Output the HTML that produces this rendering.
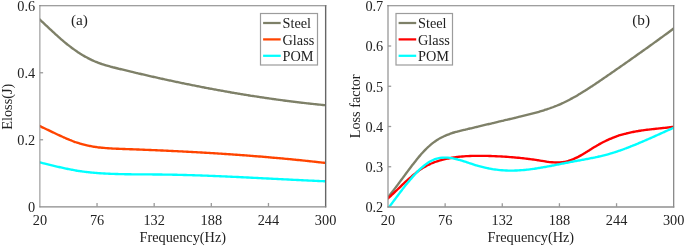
<!DOCTYPE html>
<html><head><meta charset="utf-8"><style>
html,body{margin:0;padding:0;background:#fff;width:685px;height:246px;overflow:hidden}
svg{display:block;will-change:transform}
text{font-family:"Liberation Serif",serif;font-size:14.3px;fill:#222}
</style></head><body>
<svg width="685" height="246" viewBox="0 0 685 246">
<defs><clipPath id="cl"><rect x="39.90" y="5.76" width="285.70" height="201.00"/></clipPath>
<clipPath id="cr"><rect x="388.00" y="5.76" width="285.70" height="201.24"/></clipPath></defs>
<path d="M33.90,14.19 C34.23,14.49 35.23,15.40 35.90,16.00 C36.57,16.61 37.23,17.22 37.90,17.84 C38.57,18.45 39.23,19.07 39.90,19.69 C40.57,20.31 41.23,20.93 41.90,21.55 C42.57,22.17 43.23,22.80 43.90,23.42 C44.57,24.04 45.23,24.67 45.90,25.29 C46.57,25.92 47.23,26.54 47.90,27.17 C48.57,27.79 49.23,28.41 49.90,29.03 C50.57,29.65 51.23,30.27 51.90,30.89 C52.57,31.51 53.23,32.12 53.90,32.73 C54.57,33.35 55.23,33.95 55.90,34.56 C56.57,35.16 57.23,35.76 57.90,36.36 C58.57,36.96 59.23,37.55 59.90,38.13 C60.57,38.72 61.23,39.30 61.90,39.88 C62.57,40.45 63.23,41.02 63.90,41.58 C64.57,42.14 65.23,42.70 65.90,43.25 C66.57,43.79 67.23,44.33 67.90,44.86 C68.57,45.40 69.23,45.92 69.90,46.43 C70.57,46.95 71.23,47.46 71.90,47.95 C72.57,48.45 73.23,48.94 73.90,49.41 C74.57,49.89 75.23,50.36 75.90,50.82 C76.57,51.28 77.23,51.73 77.90,52.17 C78.57,52.61 79.23,53.05 79.90,53.47 C80.57,53.89 81.23,54.30 81.90,54.71 C82.57,55.11 83.23,55.51 83.90,55.89 C84.57,56.28 85.23,56.66 85.90,57.02 C86.57,57.39 87.23,57.75 87.90,58.10 C88.57,58.45 89.23,58.79 89.90,59.12 C90.57,59.45 91.23,59.77 91.90,60.08 C92.57,60.39 93.23,60.69 93.90,60.99 C94.57,61.28 95.23,61.56 95.90,61.83 C96.57,62.11 97.23,62.37 97.90,62.63 C98.57,62.88 99.23,63.13 99.90,63.37 C100.57,63.61 101.23,63.84 101.90,64.06 C102.57,64.29 103.23,64.50 103.90,64.71 C104.57,64.92 105.23,65.13 105.90,65.33 C106.57,65.53 107.23,65.72 107.90,65.91 C108.57,66.10 109.23,66.28 109.90,66.46 C110.57,66.64 111.23,66.82 111.90,66.99 C112.57,67.17 113.23,67.34 113.90,67.51 C114.57,67.68 115.23,67.84 115.90,68.01 C116.57,68.17 117.23,68.34 117.90,68.50 C118.57,68.67 119.23,68.83 119.90,68.99 C120.57,69.16 121.23,69.32 121.90,69.48 C122.57,69.64 123.23,69.81 123.90,69.97 C124.57,70.13 125.23,70.29 125.90,70.45 C126.57,70.61 127.23,70.77 127.90,70.93 C128.57,71.09 129.23,71.25 129.90,71.41 C130.57,71.57 131.23,71.73 131.90,71.89 C132.57,72.05 133.23,72.21 133.90,72.36 C134.57,72.52 135.23,72.68 135.90,72.84 C136.57,72.99 137.23,73.15 137.90,73.31 C138.57,73.46 139.23,73.62 139.90,73.77 C140.57,73.93 141.23,74.08 141.90,74.24 C142.57,74.39 143.23,74.55 143.90,74.70 C144.57,74.86 145.23,75.01 145.90,75.16 C146.57,75.32 147.23,75.47 147.90,75.62 C148.57,75.77 149.23,75.92 149.90,76.08 C150.57,76.23 151.23,76.38 151.90,76.53 C152.57,76.68 153.23,76.83 153.90,76.98 C154.57,77.13 155.23,77.28 155.90,77.43 C156.57,77.58 157.23,77.73 157.90,77.88 C158.57,78.02 159.23,78.17 159.90,78.32 C160.57,78.47 161.23,78.61 161.90,78.76 C162.57,78.91 163.23,79.05 163.90,79.20 C164.57,79.34 165.23,79.49 165.90,79.64 C166.57,79.78 167.23,79.92 167.90,80.07 C168.57,80.21 169.23,80.36 169.90,80.50 C170.57,80.64 171.23,80.79 171.90,80.93 C172.57,81.07 173.23,81.21 173.90,81.35 C174.57,81.50 175.23,81.64 175.90,81.78 C176.57,81.92 177.23,82.06 177.90,82.20 C178.57,82.34 179.23,82.48 179.90,82.62 C180.57,82.76 181.23,82.89 181.90,83.03 C182.57,83.17 183.23,83.31 183.90,83.45 C184.57,83.58 185.23,83.72 185.90,83.86 C186.57,83.99 187.23,84.13 187.90,84.26 C188.57,84.40 189.23,84.53 189.90,84.67 C190.57,84.80 191.23,84.94 191.90,85.07 C192.57,85.21 193.23,85.34 193.90,85.47 C194.57,85.60 195.23,85.74 195.90,85.87 C196.57,86.00 197.23,86.13 197.90,86.26 C198.57,86.39 199.23,86.52 199.90,86.65 C200.57,86.78 201.23,86.91 201.90,87.04 C202.57,87.17 203.23,87.30 203.90,87.43 C204.57,87.56 205.23,87.69 205.90,87.81 C206.57,87.94 207.23,88.07 207.90,88.19 C208.57,88.32 209.23,88.45 209.90,88.57 C210.57,88.70 211.23,88.82 211.90,88.95 C212.57,89.07 213.23,89.20 213.90,89.32 C214.57,89.44 215.23,89.57 215.90,89.69 C216.57,89.81 217.23,89.93 217.90,90.06 C218.57,90.18 219.23,90.30 219.90,90.42 C220.57,90.54 221.23,90.66 221.90,90.78 C222.57,90.90 223.23,91.02 223.90,91.14 C224.57,91.26 225.23,91.37 225.90,91.49 C226.57,91.61 227.23,91.73 227.90,91.85 C228.57,91.96 229.23,92.08 229.90,92.19 C230.57,92.31 231.23,92.43 231.90,92.54 C232.57,92.66 233.23,92.77 233.90,92.88 C234.57,93.00 235.23,93.11 235.90,93.22 C236.57,93.34 237.23,93.45 237.90,93.56 C238.57,93.67 239.23,93.79 239.90,93.90 C240.57,94.01 241.23,94.12 241.90,94.23 C242.57,94.34 243.23,94.45 243.90,94.56 C244.57,94.67 245.23,94.77 245.90,94.88 C246.57,94.99 247.23,95.10 247.90,95.20 C248.57,95.31 249.23,95.42 249.90,95.52 C250.57,95.63 251.23,95.74 251.90,95.84 C252.57,95.95 253.23,96.05 253.90,96.15 C254.57,96.26 255.23,96.36 255.90,96.46 C256.57,96.57 257.23,96.67 257.90,96.77 C258.57,96.87 259.23,96.97 259.90,97.08 C260.57,97.18 261.23,97.28 261.90,97.38 C262.57,97.48 263.23,97.57 263.90,97.67 C264.57,97.77 265.23,97.87 265.90,97.97 C266.57,98.07 267.23,98.16 267.90,98.26 C268.57,98.36 269.23,98.45 269.90,98.55 C270.57,98.64 271.23,98.74 271.90,98.83 C272.57,98.93 273.23,99.02 273.90,99.11 C274.57,99.21 275.23,99.30 275.90,99.39 C276.57,99.49 277.23,99.58 277.90,99.67 C278.57,99.76 279.23,99.85 279.90,99.94 C280.57,100.03 281.23,100.12 281.90,100.21 C282.57,100.30 283.23,100.39 283.90,100.48 C284.57,100.56 285.23,100.65 285.90,100.74 C286.57,100.83 287.23,100.91 287.90,101.00 C288.57,101.08 289.23,101.17 289.90,101.25 C290.57,101.34 291.23,101.42 291.90,101.51 C292.57,101.59 293.23,101.67 293.90,101.76 C294.57,101.84 295.23,101.92 295.90,102.00 C296.57,102.08 297.23,102.16 297.90,102.24 C298.57,102.32 299.23,102.40 299.90,102.48 C300.57,102.56 301.23,102.64 301.90,102.72 C302.57,102.80 303.23,102.87 303.90,102.95 C304.57,103.03 305.23,103.10 305.90,103.18 C306.57,103.26 307.23,103.33 307.90,103.41 C308.57,103.48 309.23,103.55 309.90,103.63 C310.57,103.70 311.23,103.77 311.90,103.85 C312.57,103.92 313.23,103.99 313.90,104.06 C314.57,104.13 315.23,104.20 315.90,104.27 C316.57,104.34 317.23,104.41 317.90,104.48 C318.57,104.55 319.23,104.62 319.90,104.69 C320.57,104.75 321.23,104.82 321.90,104.89 C322.57,104.95 323.23,105.02 323.90,105.08 C324.57,105.15 325.23,105.21 325.90,105.28 C326.57,105.34 327.23,105.41 327.90,105.47 C328.57,105.53 329.28,105.60 329.90,105.66 C330.52,105.71 331.32,105.79 331.60,105.81" fill="none" stroke="#7e8068" stroke-width="2.35" stroke-linejoin="round" clip-path="url(#cl)"/>
<path d="M33.90,123.54 C34.23,123.69 35.23,124.11 35.90,124.40 C36.57,124.69 37.23,124.98 37.90,125.28 C38.57,125.57 39.23,125.88 39.90,126.18 C40.57,126.48 41.23,126.79 41.90,127.10 C42.57,127.41 43.23,127.72 43.90,128.03 C44.57,128.35 45.23,128.66 45.90,128.98 C46.57,129.30 47.23,129.61 47.90,129.93 C48.57,130.25 49.23,130.57 49.90,130.89 C50.57,131.21 51.23,131.53 51.90,131.85 C52.57,132.17 53.23,132.49 53.90,132.81 C54.57,133.13 55.23,133.44 55.90,133.76 C56.57,134.07 57.23,134.39 57.90,134.70 C58.57,135.01 59.23,135.32 59.90,135.63 C60.57,135.94 61.23,136.24 61.90,136.54 C62.57,136.85 63.23,137.14 63.90,137.44 C64.57,137.73 65.23,138.03 65.90,138.31 C66.57,138.60 67.23,138.88 67.90,139.16 C68.57,139.44 69.23,139.71 69.90,139.98 C70.57,140.25 71.23,140.51 71.90,140.77 C72.57,141.03 73.23,141.28 73.90,141.52 C74.57,141.77 75.23,142.01 75.90,142.24 C76.57,142.47 77.23,142.69 77.90,142.91 C78.57,143.13 79.23,143.34 79.90,143.54 C80.57,143.74 81.23,143.94 81.90,144.12 C82.57,144.31 83.23,144.49 83.90,144.66 C84.57,144.83 85.23,144.99 85.90,145.15 C86.57,145.31 87.23,145.46 87.90,145.60 C88.57,145.74 89.23,145.88 89.90,146.01 C90.57,146.14 91.23,146.26 91.90,146.38 C92.57,146.50 93.23,146.61 93.90,146.72 C94.57,146.82 95.23,146.92 95.90,147.02 C96.57,147.11 97.23,147.20 97.90,147.29 C98.57,147.38 99.23,147.46 99.90,147.53 C100.57,147.61 101.23,147.68 101.90,147.75 C102.57,147.82 103.23,147.88 103.90,147.94 C104.57,148.00 105.23,148.06 105.90,148.11 C106.57,148.16 107.23,148.21 107.90,148.26 C108.57,148.31 109.23,148.35 109.90,148.39 C110.57,148.43 111.23,148.47 111.90,148.51 C112.57,148.54 113.23,148.58 113.90,148.61 C114.57,148.64 115.23,148.67 115.90,148.70 C116.57,148.73 117.23,148.76 117.90,148.78 C118.57,148.81 119.23,148.84 119.90,148.86 C120.57,148.88 121.23,148.91 121.90,148.93 C122.57,148.95 123.23,148.98 123.90,149.00 C124.57,149.02 125.23,149.05 125.90,149.07 C126.57,149.09 127.23,149.12 127.90,149.14 C128.57,149.16 129.23,149.19 129.90,149.21 C130.57,149.23 131.23,149.26 131.90,149.28 C132.57,149.31 133.23,149.33 133.90,149.35 C134.57,149.38 135.23,149.40 135.90,149.43 C136.57,149.45 137.23,149.48 137.90,149.50 C138.57,149.53 139.23,149.55 139.90,149.58 C140.57,149.61 141.23,149.63 141.90,149.66 C142.57,149.68 143.23,149.71 143.90,149.74 C144.57,149.76 145.23,149.79 145.90,149.82 C146.57,149.84 147.23,149.87 147.90,149.90 C148.57,149.92 149.23,149.95 149.90,149.98 C150.57,150.01 151.23,150.03 151.90,150.06 C152.57,150.09 153.23,150.12 153.90,150.15 C154.57,150.18 155.23,150.20 155.90,150.23 C156.57,150.26 157.23,150.29 157.90,150.32 C158.57,150.35 159.23,150.38 159.90,150.41 C160.57,150.44 161.23,150.47 161.90,150.50 C162.57,150.53 163.23,150.56 163.90,150.59 C164.57,150.62 165.23,150.65 165.90,150.68 C166.57,150.71 167.23,150.74 167.90,150.77 C168.57,150.80 169.23,150.83 169.90,150.86 C170.57,150.89 171.23,150.93 171.90,150.96 C172.57,150.99 173.23,151.02 173.90,151.05 C174.57,151.09 175.23,151.12 175.90,151.15 C176.57,151.18 177.23,151.22 177.90,151.25 C178.57,151.28 179.23,151.32 179.90,151.35 C180.57,151.38 181.23,151.42 181.90,151.45 C182.57,151.48 183.23,151.52 183.90,151.55 C184.57,151.59 185.23,151.62 185.90,151.66 C186.57,151.69 187.23,151.73 187.90,151.76 C188.57,151.80 189.23,151.83 189.90,151.87 C190.57,151.90 191.23,151.94 191.90,151.97 C192.57,152.01 193.23,152.05 193.90,152.08 C194.57,152.12 195.23,152.16 195.90,152.19 C196.57,152.23 197.23,152.27 197.90,152.31 C198.57,152.34 199.23,152.38 199.90,152.42 C200.57,152.46 201.23,152.49 201.90,152.53 C202.57,152.57 203.23,152.61 203.90,152.65 C204.57,152.69 205.23,152.73 205.90,152.77 C206.57,152.81 207.23,152.85 207.90,152.89 C208.57,152.93 209.23,152.97 209.90,153.01 C210.57,153.05 211.23,153.09 211.90,153.13 C212.57,153.17 213.23,153.21 213.90,153.25 C214.57,153.29 215.23,153.33 215.90,153.38 C216.57,153.42 217.23,153.46 217.90,153.50 C218.57,153.54 219.23,153.59 219.90,153.63 C220.57,153.67 221.23,153.72 221.90,153.76 C222.57,153.80 223.23,153.85 223.90,153.89 C224.57,153.93 225.23,153.98 225.90,154.02 C226.57,154.07 227.23,154.11 227.90,154.16 C228.57,154.20 229.23,154.25 229.90,154.29 C230.57,154.34 231.23,154.38 231.90,154.43 C232.57,154.48 233.23,154.52 233.90,154.57 C234.57,154.62 235.23,154.66 235.90,154.71 C236.57,154.76 237.23,154.80 237.90,154.85 C238.57,154.90 239.23,154.95 239.90,155.00 C240.57,155.05 241.23,155.09 241.90,155.14 C242.57,155.19 243.23,155.24 243.90,155.29 C244.57,155.34 245.23,155.39 245.90,155.44 C246.57,155.49 247.23,155.54 247.90,155.59 C248.57,155.64 249.23,155.69 249.90,155.74 C250.57,155.79 251.23,155.85 251.90,155.90 C252.57,155.95 253.23,156.00 253.90,156.05 C254.57,156.11 255.23,156.16 255.90,156.21 C256.57,156.27 257.23,156.32 257.90,156.37 C258.57,156.43 259.23,156.48 259.90,156.54 C260.57,156.59 261.23,156.64 261.90,156.70 C262.57,156.75 263.23,156.81 263.90,156.86 C264.57,156.92 265.23,156.98 265.90,157.03 C266.57,157.09 267.23,157.14 267.90,157.20 C268.57,157.26 269.23,157.32 269.90,157.37 C270.57,157.43 271.23,157.49 271.90,157.55 C272.57,157.60 273.23,157.66 273.90,157.72 C274.57,157.78 275.23,157.84 275.90,157.90 C276.57,157.96 277.23,158.02 277.90,158.08 C278.57,158.14 279.23,158.20 279.90,158.26 C280.57,158.32 281.23,158.38 281.90,158.44 C282.57,158.50 283.23,158.57 283.90,158.63 C284.57,158.69 285.23,158.75 285.90,158.82 C286.57,158.88 287.23,158.94 287.90,159.00 C288.57,159.07 289.23,159.13 289.90,159.20 C290.57,159.26 291.23,159.32 291.90,159.39 C292.57,159.45 293.23,159.52 293.90,159.58 C294.57,159.65 295.23,159.72 295.90,159.78 C296.57,159.85 297.23,159.92 297.90,159.98 C298.57,160.05 299.23,160.12 299.90,160.18 C300.57,160.25 301.23,160.32 301.90,160.39 C302.57,160.46 303.23,160.53 303.90,160.59 C304.57,160.66 305.23,160.73 305.90,160.80 C306.57,160.87 307.23,160.94 307.90,161.01 C308.57,161.08 309.23,161.16 309.90,161.23 C310.57,161.30 311.23,161.37 311.90,161.44 C312.57,161.51 313.23,161.59 313.90,161.66 C314.57,161.73 315.23,161.81 315.90,161.88 C316.57,161.95 317.23,162.03 317.90,162.10 C318.57,162.18 319.23,162.25 319.90,162.33 C320.57,162.40 321.23,162.48 321.90,162.55 C322.57,162.63 323.23,162.70 323.90,162.78 C324.57,162.86 325.23,162.93 325.90,163.01 C326.57,163.09 327.23,163.17 327.90,163.25 C328.57,163.32 329.28,163.41 329.90,163.48 C330.52,163.55 331.32,163.65 331.60,163.68" fill="none" stroke="#ff4400" stroke-width="2.35" stroke-linejoin="round" clip-path="url(#cl)"/>
<path d="M33.90,160.93 C34.23,161.01 35.23,161.25 35.90,161.42 C36.57,161.58 37.23,161.74 37.90,161.91 C38.57,162.07 39.23,162.24 39.90,162.40 C40.57,162.57 41.23,162.73 41.90,162.90 C42.57,163.06 43.23,163.23 43.90,163.40 C44.57,163.56 45.23,163.73 45.90,163.89 C46.57,164.06 47.23,164.22 47.90,164.39 C48.57,164.55 49.23,164.71 49.90,164.88 C50.57,165.04 51.23,165.20 51.90,165.36 C52.57,165.53 53.23,165.69 53.90,165.85 C54.57,166.01 55.23,166.16 55.90,166.32 C56.57,166.48 57.23,166.63 57.90,166.79 C58.57,166.94 59.23,167.10 59.90,167.25 C60.57,167.40 61.23,167.55 61.90,167.70 C62.57,167.85 63.23,167.99 63.90,168.14 C64.57,168.28 65.23,168.43 65.90,168.57 C66.57,168.71 67.23,168.84 67.90,168.98 C68.57,169.12 69.23,169.25 69.90,169.38 C70.57,169.51 71.23,169.64 71.90,169.76 C72.57,169.89 73.23,170.01 73.90,170.13 C74.57,170.25 75.23,170.37 75.90,170.48 C76.57,170.60 77.23,170.71 77.90,170.81 C78.57,170.92 79.23,171.02 79.90,171.13 C80.57,171.23 81.23,171.32 81.90,171.42 C82.57,171.51 83.23,171.60 83.90,171.69 C84.57,171.77 85.23,171.86 85.90,171.94 C86.57,172.02 87.23,172.10 87.90,172.17 C88.57,172.25 89.23,172.32 89.90,172.39 C90.57,172.46 91.23,172.52 91.90,172.59 C92.57,172.65 93.23,172.71 93.90,172.77 C94.57,172.83 95.23,172.88 95.90,172.94 C96.57,172.99 97.23,173.04 97.90,173.09 C98.57,173.14 99.23,173.19 99.90,173.23 C100.57,173.28 101.23,173.32 101.90,173.36 C102.57,173.40 103.23,173.44 103.90,173.48 C104.57,173.51 105.23,173.55 105.90,173.58 C106.57,173.62 107.23,173.65 107.90,173.68 C108.57,173.71 109.23,173.74 109.90,173.77 C110.57,173.80 111.23,173.82 111.90,173.85 C112.57,173.87 113.23,173.90 113.90,173.92 C114.57,173.94 115.23,173.96 115.90,173.99 C116.57,174.01 117.23,174.03 117.90,174.04 C118.57,174.06 119.23,174.08 119.90,174.10 C120.57,174.11 121.23,174.13 121.90,174.14 C122.57,174.16 123.23,174.17 123.90,174.19 C124.57,174.20 125.23,174.21 125.90,174.22 C126.57,174.23 127.23,174.24 127.90,174.25 C128.57,174.26 129.23,174.27 129.90,174.28 C130.57,174.29 131.23,174.30 131.90,174.31 C132.57,174.31 133.23,174.32 133.90,174.33 C134.57,174.33 135.23,174.34 135.90,174.35 C136.57,174.35 137.23,174.36 137.90,174.36 C138.57,174.37 139.23,174.37 139.90,174.38 C140.57,174.38 141.23,174.39 141.90,174.39 C142.57,174.39 143.23,174.40 143.90,174.40 C144.57,174.41 145.23,174.41 145.90,174.41 C146.57,174.42 147.23,174.42 147.90,174.43 C148.57,174.43 149.23,174.43 149.90,174.44 C150.57,174.44 151.23,174.45 151.90,174.45 C152.57,174.45 153.23,174.46 153.90,174.46 C154.57,174.47 155.23,174.47 155.90,174.48 C156.57,174.48 157.23,174.49 157.90,174.50 C158.57,174.50 159.23,174.51 159.90,174.52 C160.57,174.52 161.23,174.53 161.90,174.54 C162.57,174.55 163.23,174.55 163.90,174.56 C164.57,174.57 165.23,174.58 165.90,174.59 C166.57,174.60 167.23,174.61 167.90,174.62 C168.57,174.63 169.23,174.64 169.90,174.66 C170.57,174.67 171.23,174.68 171.90,174.69 C172.57,174.70 173.23,174.72 173.90,174.73 C174.57,174.74 175.23,174.76 175.90,174.77 C176.57,174.79 177.23,174.80 177.90,174.82 C178.57,174.83 179.23,174.85 179.90,174.86 C180.57,174.88 181.23,174.89 181.90,174.91 C182.57,174.93 183.23,174.95 183.90,174.96 C184.57,174.98 185.23,175.00 185.90,175.02 C186.57,175.03 187.23,175.05 187.90,175.07 C188.57,175.09 189.23,175.11 189.90,175.13 C190.57,175.15 191.23,175.17 191.90,175.19 C192.57,175.21 193.23,175.23 193.90,175.25 C194.57,175.27 195.23,175.29 195.90,175.32 C196.57,175.34 197.23,175.36 197.90,175.38 C198.57,175.40 199.23,175.43 199.90,175.45 C200.57,175.47 201.23,175.50 201.90,175.52 C202.57,175.54 203.23,175.57 203.90,175.59 C204.57,175.61 205.23,175.64 205.90,175.66 C206.57,175.69 207.23,175.71 207.90,175.74 C208.57,175.76 209.23,175.79 209.90,175.82 C210.57,175.84 211.23,175.87 211.90,175.89 C212.57,175.92 213.23,175.95 213.90,175.97 C214.57,176.00 215.23,176.03 215.90,176.06 C216.57,176.08 217.23,176.11 217.90,176.14 C218.57,176.17 219.23,176.19 219.90,176.22 C220.57,176.25 221.23,176.28 221.90,176.31 C222.57,176.34 223.23,176.37 223.90,176.39 C224.57,176.42 225.23,176.45 225.90,176.48 C226.57,176.51 227.23,176.54 227.90,176.57 C228.57,176.60 229.23,176.63 229.90,176.66 C230.57,176.69 231.23,176.72 231.90,176.75 C232.57,176.78 233.23,176.82 233.90,176.85 C234.57,176.88 235.23,176.91 235.90,176.94 C236.57,176.97 237.23,177.00 237.90,177.03 C238.57,177.07 239.23,177.10 239.90,177.13 C240.57,177.16 241.23,177.19 241.90,177.23 C242.57,177.26 243.23,177.29 243.90,177.32 C244.57,177.36 245.23,177.39 245.90,177.42 C246.57,177.45 247.23,177.49 247.90,177.52 C248.57,177.55 249.23,177.58 249.90,177.62 C250.57,177.65 251.23,177.68 251.90,177.72 C252.57,177.75 253.23,177.78 253.90,177.82 C254.57,177.85 255.23,177.88 255.90,177.92 C256.57,177.95 257.23,177.98 257.90,178.02 C258.57,178.05 259.23,178.09 259.90,178.12 C260.57,178.15 261.23,178.19 261.90,178.22 C262.57,178.26 263.23,178.29 263.90,178.32 C264.57,178.36 265.23,178.39 265.90,178.42 C266.57,178.46 267.23,178.49 267.90,178.53 C268.57,178.56 269.23,178.59 269.90,178.63 C270.57,178.66 271.23,178.70 271.90,178.73 C272.57,178.77 273.23,178.80 273.90,178.83 C274.57,178.87 275.23,178.90 275.90,178.94 C276.57,178.97 277.23,179.00 277.90,179.04 C278.57,179.07 279.23,179.11 279.90,179.14 C280.57,179.17 281.23,179.21 281.90,179.24 C282.57,179.27 283.23,179.31 283.90,179.34 C284.57,179.38 285.23,179.41 285.90,179.44 C286.57,179.48 287.23,179.51 287.90,179.54 C288.57,179.58 289.23,179.61 289.90,179.64 C290.57,179.68 291.23,179.71 291.90,179.74 C292.57,179.78 293.23,179.81 293.90,179.84 C294.57,179.88 295.23,179.91 295.90,179.94 C296.57,179.97 297.23,180.01 297.90,180.04 C298.57,180.07 299.23,180.10 299.90,180.14 C300.57,180.17 301.23,180.20 301.90,180.23 C302.57,180.26 303.23,180.30 303.90,180.33 C304.57,180.36 305.23,180.39 305.90,180.42 C306.57,180.45 307.23,180.48 307.90,180.52 C308.57,180.55 309.23,180.58 309.90,180.61 C310.57,180.64 311.23,180.67 311.90,180.70 C312.57,180.73 313.23,180.76 313.90,180.79 C314.57,180.82 315.23,180.85 315.90,180.88 C316.57,180.91 317.23,180.94 317.90,180.97 C318.57,181.00 319.23,181.03 319.90,181.06 C320.57,181.09 321.23,181.11 321.90,181.14 C322.57,181.17 323.23,181.20 323.90,181.23 C324.57,181.26 325.23,181.28 325.90,181.31 C326.57,181.34 327.23,181.37 327.90,181.39 C328.57,181.42 329.28,181.45 329.90,181.47 C330.52,181.50 331.32,181.53 331.60,181.54" fill="none" stroke="#00ffff" stroke-width="2.35" stroke-linejoin="round" clip-path="url(#cl)"/>
<path d="M382.00,204.46 C382.33,204.07 383.33,202.93 384.00,202.14 C384.67,201.36 385.33,200.56 386.00,199.76 C386.67,198.95 387.33,198.13 388.00,197.30 C388.67,196.48 389.33,195.64 390.00,194.80 C390.67,193.95 391.33,193.10 392.00,192.24 C392.67,191.38 393.33,190.51 394.00,189.64 C394.67,188.77 395.33,187.89 396.00,187.00 C396.67,186.12 397.33,185.23 398.00,184.34 C398.67,183.45 399.33,182.55 400.00,181.66 C400.67,180.76 401.33,179.86 402.00,178.96 C402.67,178.06 403.33,177.16 404.00,176.26 C404.67,175.36 405.33,174.45 406.00,173.56 C406.67,172.66 407.33,171.76 408.00,170.87 C408.67,169.98 409.33,169.09 410.00,168.20 C410.67,167.32 411.33,166.44 412.00,165.57 C412.67,164.71 413.33,163.84 414.00,162.99 C414.67,162.14 415.33,161.30 416.00,160.47 C416.67,159.63 417.33,158.81 418.00,158.01 C418.67,157.20 419.33,156.41 420.00,155.63 C420.67,154.85 421.33,154.09 422.00,153.34 C422.67,152.60 423.33,151.87 424.00,151.16 C424.67,150.45 425.33,149.75 426.00,149.08 C426.67,148.41 427.33,147.76 428.00,147.13 C428.67,146.50 429.33,145.90 430.00,145.32 C430.67,144.74 431.33,144.18 432.00,143.65 C432.67,143.11 433.33,142.60 434.00,142.11 C434.67,141.62 435.33,141.16 436.00,140.71 C436.67,140.26 437.33,139.83 438.00,139.42 C438.67,139.01 439.33,138.63 440.00,138.25 C440.67,137.88 441.33,137.53 442.00,137.19 C442.67,136.85 443.33,136.52 444.00,136.21 C444.67,135.90 445.33,135.61 446.00,135.33 C446.67,135.05 447.33,134.78 448.00,134.53 C448.67,134.27 449.33,134.03 450.00,133.79 C450.67,133.56 451.33,133.33 452.00,133.12 C452.67,132.90 453.33,132.70 454.00,132.50 C454.67,132.30 455.33,132.11 456.00,131.93 C456.67,131.74 457.33,131.57 458.00,131.39 C458.67,131.22 459.33,131.05 460.00,130.89 C460.67,130.72 461.33,130.56 462.00,130.40 C462.67,130.24 463.33,130.08 464.00,129.92 C464.67,129.77 465.33,129.61 466.00,129.45 C466.67,129.30 467.33,129.14 468.00,128.98 C468.67,128.82 469.33,128.67 470.00,128.51 C470.67,128.35 471.33,128.19 472.00,128.04 C472.67,127.88 473.33,127.72 474.00,127.56 C474.67,127.41 475.33,127.25 476.00,127.09 C476.67,126.93 477.33,126.77 478.00,126.62 C478.67,126.46 479.33,126.30 480.00,126.14 C480.67,125.98 481.33,125.83 482.00,125.67 C482.67,125.51 483.33,125.35 484.00,125.19 C484.67,125.03 485.33,124.88 486.00,124.72 C486.67,124.56 487.33,124.40 488.00,124.24 C488.67,124.08 489.33,123.93 490.00,123.77 C490.67,123.61 491.33,123.45 492.00,123.29 C492.67,123.13 493.33,122.97 494.00,122.82 C494.67,122.66 495.33,122.50 496.00,122.34 C496.67,122.18 497.33,122.02 498.00,121.86 C498.67,121.71 499.33,121.55 500.00,121.39 C500.67,121.23 501.33,121.07 502.00,120.91 C502.67,120.76 503.33,120.60 504.00,120.44 C504.67,120.28 505.33,120.12 506.00,119.96 C506.67,119.81 507.33,119.65 508.00,119.49 C508.67,119.33 509.33,119.17 510.00,119.02 C510.67,118.86 511.33,118.70 512.00,118.54 C512.67,118.38 513.33,118.23 514.00,118.07 C514.67,117.91 515.33,117.75 516.00,117.60 C516.67,117.44 517.33,117.28 518.00,117.12 C518.67,116.97 519.33,116.81 520.00,116.65 C520.67,116.49 521.33,116.33 522.00,116.17 C522.67,116.01 523.33,115.85 524.00,115.69 C524.67,115.53 525.33,115.37 526.00,115.21 C526.67,115.04 527.33,114.88 528.00,114.71 C528.67,114.54 529.33,114.38 530.00,114.21 C530.67,114.04 531.33,113.86 532.00,113.69 C532.67,113.51 533.33,113.34 534.00,113.16 C534.67,112.98 535.33,112.80 536.00,112.62 C536.67,112.43 537.33,112.24 538.00,112.05 C538.67,111.86 539.33,111.67 540.00,111.48 C540.67,111.28 541.33,111.08 542.00,110.88 C542.67,110.67 543.33,110.47 544.00,110.26 C544.67,110.05 545.33,109.83 546.00,109.61 C546.67,109.39 547.33,109.17 548.00,108.94 C548.67,108.72 549.33,108.48 550.00,108.25 C550.67,108.01 551.33,107.77 552.00,107.52 C552.67,107.28 553.33,107.03 554.00,106.77 C554.67,106.51 555.33,106.25 556.00,105.98 C556.67,105.72 557.33,105.44 558.00,105.16 C558.67,104.88 559.33,104.60 560.00,104.31 C560.67,104.02 561.33,103.72 562.00,103.42 C562.67,103.11 563.33,102.80 564.00,102.49 C564.67,102.17 565.33,101.84 566.00,101.52 C566.67,101.19 567.33,100.85 568.00,100.51 C568.67,100.17 569.33,99.82 570.00,99.47 C570.67,99.12 571.33,98.76 572.00,98.39 C572.67,98.03 573.33,97.66 574.00,97.29 C574.67,96.91 575.33,96.53 576.00,96.15 C576.67,95.77 577.33,95.38 578.00,94.98 C578.67,94.59 579.33,94.19 580.00,93.79 C580.67,93.39 581.33,92.99 582.00,92.58 C582.67,92.17 583.33,91.76 584.00,91.34 C584.67,90.92 585.33,90.50 586.00,90.08 C586.67,89.65 587.33,89.23 588.00,88.80 C588.67,88.37 589.33,87.94 590.00,87.50 C590.67,87.07 591.33,86.63 592.00,86.19 C592.67,85.75 593.33,85.30 594.00,84.86 C594.67,84.41 595.33,83.97 596.00,83.52 C596.67,83.07 597.33,82.62 598.00,82.17 C598.67,81.72 599.33,81.26 600.00,80.81 C600.67,80.35 601.33,79.90 602.00,79.44 C602.67,78.98 603.33,78.52 604.00,78.07 C604.67,77.61 605.33,77.15 606.00,76.69 C606.67,76.23 607.33,75.77 608.00,75.31 C608.67,74.85 609.33,74.39 610.00,73.93 C610.67,73.47 611.33,73.00 612.00,72.54 C612.67,72.08 613.33,71.62 614.00,71.16 C614.67,70.69 615.33,70.23 616.00,69.77 C616.67,69.31 617.33,68.84 618.00,68.38 C618.67,67.91 619.33,67.45 620.00,66.98 C620.67,66.52 621.33,66.05 622.00,65.59 C622.67,65.12 623.33,64.66 624.00,64.19 C624.67,63.72 625.33,63.26 626.00,62.79 C626.67,62.32 627.33,61.86 628.00,61.39 C628.67,60.92 629.33,60.45 630.00,59.98 C630.67,59.51 631.33,59.04 632.00,58.57 C632.67,58.10 633.33,57.63 634.00,57.16 C634.67,56.69 635.33,56.22 636.00,55.75 C636.67,55.28 637.33,54.80 638.00,54.33 C638.67,53.86 639.33,53.39 640.00,52.91 C640.67,52.44 641.33,51.96 642.00,51.49 C642.67,51.02 643.33,50.54 644.00,50.06 C644.67,49.59 645.33,49.11 646.00,48.64 C646.67,48.16 647.33,47.68 648.00,47.21 C648.67,46.73 649.33,46.25 650.00,45.77 C650.67,45.29 651.33,44.81 652.00,44.33 C652.67,43.85 653.33,43.37 654.00,42.89 C654.67,42.41 655.33,41.93 656.00,41.45 C656.67,40.97 657.33,40.48 658.00,40.00 C658.67,39.52 659.33,39.04 660.00,38.55 C660.67,38.07 661.33,37.58 662.00,37.10 C662.67,36.61 663.33,36.13 664.00,35.64 C664.67,35.15 665.33,34.67 666.00,34.18 C666.67,33.69 667.33,33.20 668.00,32.72 C668.67,32.23 669.33,31.74 670.00,31.25 C670.67,30.76 671.33,30.27 672.00,29.78 C672.67,29.29 673.33,28.79 674.00,28.30 C674.67,27.81 675.33,27.32 676.00,26.82 C676.67,26.33 677.38,25.80 678.00,25.34 C678.62,24.88 679.42,24.29 679.70,24.08" fill="none" stroke="#7e8068" stroke-width="2.35" stroke-linejoin="round" clip-path="url(#cr)"/>
<path d="M382.00,203.15 C382.33,202.89 383.33,202.14 384.00,201.61 C384.67,201.09 385.33,200.55 386.00,199.99 C386.67,199.44 387.33,198.87 388.00,198.29 C388.67,197.71 389.33,197.12 390.00,196.52 C390.67,195.92 391.33,195.31 392.00,194.70 C392.67,194.08 393.33,193.46 394.00,192.83 C394.67,192.21 395.33,191.57 396.00,190.94 C396.67,190.30 397.33,189.66 398.00,189.02 C398.67,188.38 399.33,187.74 400.00,187.10 C400.67,186.46 401.33,185.81 402.00,185.18 C402.67,184.54 403.33,183.90 404.00,183.28 C404.67,182.65 405.33,182.02 406.00,181.40 C406.67,180.78 407.33,180.17 408.00,179.57 C408.67,178.97 409.33,178.37 410.00,177.79 C410.67,177.20 411.33,176.63 412.00,176.06 C412.67,175.50 413.33,174.94 414.00,174.40 C414.67,173.86 415.33,173.33 416.00,172.81 C416.67,172.29 417.33,171.79 418.00,171.29 C418.67,170.80 419.33,170.32 420.00,169.86 C420.67,169.40 421.33,168.95 422.00,168.52 C422.67,168.08 423.33,167.67 424.00,167.27 C424.67,166.87 425.33,166.48 426.00,166.12 C426.67,165.75 427.33,165.40 428.00,165.07 C428.67,164.74 429.33,164.42 430.00,164.12 C430.67,163.82 431.33,163.53 432.00,163.26 C432.67,162.98 433.33,162.72 434.00,162.47 C434.67,162.22 435.33,161.98 436.00,161.75 C436.67,161.52 437.33,161.30 438.00,161.09 C438.67,160.88 439.33,160.68 440.00,160.48 C440.67,160.29 441.33,160.10 442.00,159.92 C442.67,159.74 443.33,159.57 444.00,159.41 C444.67,159.24 445.33,159.08 446.00,158.93 C446.67,158.78 447.33,158.64 448.00,158.50 C448.67,158.36 449.33,158.23 450.00,158.10 C450.67,157.98 451.33,157.86 452.00,157.75 C452.67,157.64 453.33,157.53 454.00,157.43 C454.67,157.33 455.33,157.23 456.00,157.14 C456.67,157.05 457.33,156.97 458.00,156.89 C458.67,156.81 459.33,156.74 460.00,156.67 C460.67,156.60 461.33,156.54 462.00,156.48 C462.67,156.42 463.33,156.36 464.00,156.31 C464.67,156.26 465.33,156.22 466.00,156.18 C466.67,156.14 467.33,156.10 468.00,156.06 C468.67,156.03 469.33,156.00 470.00,155.98 C470.67,155.95 471.33,155.93 472.00,155.91 C472.67,155.89 473.33,155.87 474.00,155.86 C474.67,155.85 475.33,155.84 476.00,155.83 C476.67,155.82 477.33,155.82 478.00,155.82 C478.67,155.81 479.33,155.82 480.00,155.82 C480.67,155.82 481.33,155.83 482.00,155.83 C482.67,155.84 483.33,155.85 484.00,155.86 C484.67,155.87 485.33,155.88 486.00,155.90 C486.67,155.91 487.33,155.92 488.00,155.94 C488.67,155.96 489.33,155.98 490.00,156.00 C490.67,156.02 491.33,156.04 492.00,156.06 C492.67,156.08 493.33,156.11 494.00,156.13 C494.67,156.16 495.33,156.19 496.00,156.21 C496.67,156.24 497.33,156.27 498.00,156.31 C498.67,156.34 499.33,156.37 500.00,156.41 C500.67,156.44 501.33,156.48 502.00,156.52 C502.67,156.56 503.33,156.60 504.00,156.64 C504.67,156.68 505.33,156.72 506.00,156.77 C506.67,156.81 507.33,156.86 508.00,156.91 C508.67,156.95 509.33,157.00 510.00,157.06 C510.67,157.11 511.33,157.16 512.00,157.21 C512.67,157.27 513.33,157.33 514.00,157.38 C514.67,157.44 515.33,157.50 516.00,157.56 C516.67,157.63 517.33,157.69 518.00,157.75 C518.67,157.82 519.33,157.89 520.00,157.95 C520.67,158.02 521.33,158.09 522.00,158.17 C522.67,158.24 523.33,158.31 524.00,158.39 C524.67,158.46 525.33,158.54 526.00,158.62 C526.67,158.70 527.33,158.78 528.00,158.86 C528.67,158.95 529.33,159.03 530.00,159.12 C530.67,159.20 531.33,159.29 532.00,159.38 C532.67,159.47 533.33,159.56 534.00,159.66 C534.67,159.75 535.33,159.85 536.00,159.95 C536.67,160.04 537.33,160.14 538.00,160.25 C538.67,160.35 539.33,160.45 540.00,160.56 C540.67,160.66 541.33,160.77 542.00,160.88 C542.67,160.98 543.33,161.09 544.00,161.20 C544.67,161.30 545.33,161.41 546.00,161.51 C546.67,161.61 547.33,161.71 548.00,161.80 C548.67,161.89 549.33,161.98 550.00,162.06 C550.67,162.14 551.33,162.21 552.00,162.27 C552.67,162.33 553.33,162.39 554.00,162.43 C554.67,162.47 555.33,162.50 556.00,162.52 C556.67,162.54 557.33,162.54 558.00,162.53 C558.67,162.52 559.33,162.50 560.00,162.46 C560.67,162.42 561.33,162.36 562.00,162.28 C562.67,162.20 563.33,162.11 564.00,161.99 C564.67,161.87 565.33,161.74 566.00,161.58 C566.67,161.43 567.33,161.25 568.00,161.06 C568.67,160.86 569.33,160.65 570.00,160.42 C570.67,160.19 571.33,159.94 572.00,159.68 C572.67,159.42 573.33,159.14 574.00,158.85 C574.67,158.56 575.33,158.25 576.00,157.93 C576.67,157.61 577.33,157.27 578.00,156.93 C578.67,156.58 579.33,156.22 580.00,155.86 C580.67,155.49 581.33,155.11 582.00,154.72 C582.67,154.34 583.33,153.95 584.00,153.55 C584.67,153.15 585.33,152.74 586.00,152.34 C586.67,151.93 587.33,151.51 588.00,151.10 C588.67,150.69 589.33,150.27 590.00,149.85 C590.67,149.44 591.33,149.02 592.00,148.61 C592.67,148.19 593.33,147.78 594.00,147.37 C594.67,146.97 595.33,146.56 596.00,146.16 C596.67,145.77 597.33,145.37 598.00,144.99 C598.67,144.61 599.33,144.23 600.00,143.86 C600.67,143.49 601.33,143.13 602.00,142.78 C602.67,142.42 603.33,142.08 604.00,141.74 C604.67,141.40 605.33,141.07 606.00,140.75 C606.67,140.43 607.33,140.11 608.00,139.81 C608.67,139.50 609.33,139.21 610.00,138.92 C610.67,138.63 611.33,138.35 612.00,138.08 C612.67,137.81 613.33,137.55 614.00,137.29 C614.67,137.04 615.33,136.80 616.00,136.56 C616.67,136.32 617.33,136.09 618.00,135.87 C618.67,135.64 619.33,135.43 620.00,135.22 C620.67,135.01 621.33,134.81 622.00,134.62 C622.67,134.42 623.33,134.24 624.00,134.06 C624.67,133.88 625.33,133.70 626.00,133.53 C626.67,133.36 627.33,133.20 628.00,133.04 C628.67,132.89 629.33,132.74 630.00,132.59 C630.67,132.44 631.33,132.30 632.00,132.17 C632.67,132.03 633.33,131.90 634.00,131.78 C634.67,131.65 635.33,131.53 636.00,131.41 C636.67,131.29 637.33,131.18 638.00,131.07 C638.67,130.96 639.33,130.85 640.00,130.75 C640.67,130.65 641.33,130.55 642.00,130.46 C642.67,130.36 643.33,130.27 644.00,130.18 C644.67,130.09 645.33,130.00 646.00,129.92 C646.67,129.83 647.33,129.75 648.00,129.67 C648.67,129.59 649.33,129.51 650.00,129.43 C650.67,129.35 651.33,129.28 652.00,129.20 C652.67,129.13 653.33,129.06 654.00,128.99 C654.67,128.91 655.33,128.84 656.00,128.77 C656.67,128.70 657.33,128.63 658.00,128.56 C658.67,128.49 659.33,128.42 660.00,128.35 C660.67,128.28 661.33,128.21 662.00,128.14 C662.67,128.07 663.33,128.00 664.00,127.93 C664.67,127.85 665.33,127.78 666.00,127.71 C666.67,127.63 667.33,127.56 668.00,127.48 C668.67,127.40 669.33,127.32 670.00,127.24 C670.67,127.16 671.33,127.08 672.00,126.99 C672.67,126.90 673.33,126.82 674.00,126.73 C674.67,126.63 675.33,126.54 676.00,126.44 C676.67,126.35 677.38,126.24 678.00,126.14 C678.62,126.05 679.42,125.92 679.70,125.87" fill="none" stroke="#ff0000" stroke-width="2.35" stroke-linejoin="round" clip-path="url(#cr)"/>
<path d="M380.00,218.71 C380.33,218.30 381.33,217.07 382.00,216.24 C382.67,215.41 383.33,214.56 384.00,213.71 C384.67,212.86 385.33,212.00 386.00,211.13 C386.67,210.27 387.33,209.39 388.00,208.52 C388.67,207.64 389.33,206.76 390.00,205.87 C390.67,204.99 391.33,204.10 392.00,203.21 C392.67,202.32 393.33,201.43 394.00,200.54 C394.67,199.65 395.33,198.75 396.00,197.86 C396.67,196.97 397.33,196.08 398.00,195.20 C398.67,194.31 399.33,193.43 400.00,192.55 C400.67,191.67 401.33,190.80 402.00,189.93 C402.67,189.07 403.33,188.20 404.00,187.35 C404.67,186.50 405.33,185.65 406.00,184.82 C406.67,183.98 407.33,183.16 408.00,182.34 C408.67,181.53 409.33,180.72 410.00,179.93 C410.67,179.14 411.33,178.36 412.00,177.60 C412.67,176.83 413.33,176.08 414.00,175.35 C414.67,174.61 415.33,173.89 416.00,173.19 C416.67,172.49 417.33,171.81 418.00,171.14 C418.67,170.48 419.33,169.83 420.00,169.20 C420.67,168.58 421.33,167.97 422.00,167.39 C422.67,166.81 423.33,166.24 424.00,165.71 C424.67,165.17 425.33,164.66 426.00,164.17 C426.67,163.68 427.33,163.22 428.00,162.78 C428.67,162.34 429.33,161.93 430.00,161.55 C430.67,161.17 431.33,160.82 432.00,160.50 C432.67,160.18 433.33,159.88 434.00,159.62 C434.67,159.35 435.33,159.12 436.00,158.91 C436.67,158.70 437.33,158.52 438.00,158.36 C438.67,158.20 439.33,158.07 440.00,157.96 C440.67,157.85 441.33,157.77 442.00,157.71 C442.67,157.64 443.33,157.60 444.00,157.58 C444.67,157.56 445.33,157.56 446.00,157.57 C446.67,157.59 447.33,157.63 448.00,157.68 C448.67,157.73 449.33,157.80 450.00,157.88 C450.67,157.97 451.33,158.07 452.00,158.18 C452.67,158.29 453.33,158.42 454.00,158.56 C454.67,158.70 455.33,158.85 456.00,159.01 C456.67,159.17 457.33,159.34 458.00,159.52 C458.67,159.70 459.33,159.89 460.00,160.08 C460.67,160.28 461.33,160.48 462.00,160.69 C462.67,160.89 463.33,161.11 464.00,161.32 C464.67,161.54 465.33,161.76 466.00,161.98 C466.67,162.20 467.33,162.43 468.00,162.65 C468.67,162.88 469.33,163.10 470.00,163.33 C470.67,163.55 471.33,163.77 472.00,163.99 C472.67,164.21 473.33,164.43 474.00,164.64 C474.67,164.85 475.33,165.06 476.00,165.26 C476.67,165.46 477.33,165.66 478.00,165.85 C478.67,166.04 479.33,166.22 480.00,166.40 C480.67,166.58 481.33,166.75 482.00,166.92 C482.67,167.09 483.33,167.25 484.00,167.41 C484.67,167.56 485.33,167.71 486.00,167.86 C486.67,168.00 487.33,168.14 488.00,168.27 C488.67,168.41 489.33,168.53 490.00,168.66 C490.67,168.78 491.33,168.89 492.00,169.00 C492.67,169.11 493.33,169.22 494.00,169.32 C494.67,169.42 495.33,169.51 496.00,169.60 C496.67,169.68 497.33,169.77 498.00,169.84 C498.67,169.92 499.33,169.99 500.00,170.05 C500.67,170.12 501.33,170.18 502.00,170.23 C502.67,170.28 503.33,170.33 504.00,170.37 C504.67,170.41 505.33,170.45 506.00,170.48 C506.67,170.50 507.33,170.53 508.00,170.55 C508.67,170.56 509.33,170.58 510.00,170.58 C510.67,170.59 511.33,170.59 512.00,170.59 C512.67,170.58 513.33,170.57 514.00,170.56 C514.67,170.54 515.33,170.52 516.00,170.50 C516.67,170.47 517.33,170.44 518.00,170.41 C518.67,170.37 519.33,170.33 520.00,170.29 C520.67,170.25 521.33,170.20 522.00,170.15 C522.67,170.09 523.33,170.04 524.00,169.98 C524.67,169.92 525.33,169.85 526.00,169.78 C526.67,169.71 527.33,169.64 528.00,169.56 C528.67,169.49 529.33,169.41 530.00,169.33 C530.67,169.24 531.33,169.16 532.00,169.07 C532.67,168.98 533.33,168.89 534.00,168.79 C534.67,168.70 535.33,168.60 536.00,168.50 C536.67,168.40 537.33,168.29 538.00,168.19 C538.67,168.08 539.33,167.97 540.00,167.86 C540.67,167.75 541.33,167.64 542.00,167.52 C542.67,167.41 543.33,167.29 544.00,167.17 C544.67,167.05 545.33,166.93 546.00,166.81 C546.67,166.69 547.33,166.57 548.00,166.44 C548.67,166.32 549.33,166.19 550.00,166.06 C550.67,165.94 551.33,165.81 552.00,165.68 C552.67,165.55 553.33,165.42 554.00,165.29 C554.67,165.16 555.33,165.03 556.00,164.90 C556.67,164.76 557.33,164.63 558.00,164.50 C558.67,164.37 559.33,164.23 560.00,164.10 C560.67,163.97 561.33,163.84 562.00,163.70 C562.67,163.57 563.33,163.44 564.00,163.31 C564.67,163.18 565.33,163.05 566.00,162.92 C566.67,162.79 567.33,162.66 568.00,162.53 C568.67,162.40 569.33,162.27 570.00,162.14 C570.67,162.02 571.33,161.89 572.00,161.77 C572.67,161.64 573.33,161.52 574.00,161.40 C574.67,161.27 575.33,161.15 576.00,161.03 C576.67,160.91 577.33,160.79 578.00,160.66 C578.67,160.54 579.33,160.42 580.00,160.30 C580.67,160.18 581.33,160.05 582.00,159.93 C582.67,159.81 583.33,159.68 584.00,159.56 C584.67,159.44 585.33,159.31 586.00,159.19 C586.67,159.06 587.33,158.93 588.00,158.80 C588.67,158.68 589.33,158.55 590.00,158.41 C590.67,158.28 591.33,158.15 592.00,158.02 C592.67,157.88 593.33,157.74 594.00,157.60 C594.67,157.47 595.33,157.32 596.00,157.18 C596.67,157.04 597.33,156.89 598.00,156.74 C598.67,156.59 599.33,156.44 600.00,156.29 C600.67,156.13 601.33,155.97 602.00,155.81 C602.67,155.65 603.33,155.49 604.00,155.32 C604.67,155.15 605.33,154.98 606.00,154.81 C606.67,154.63 607.33,154.45 608.00,154.27 C608.67,154.09 609.33,153.90 610.00,153.71 C610.67,153.51 611.33,153.32 612.00,153.12 C612.67,152.92 613.33,152.71 614.00,152.50 C614.67,152.30 615.33,152.08 616.00,151.87 C616.67,151.65 617.33,151.43 618.00,151.20 C618.67,150.98 619.33,150.75 620.00,150.52 C620.67,150.29 621.33,150.05 622.00,149.82 C622.67,149.58 623.33,149.34 624.00,149.09 C624.67,148.85 625.33,148.60 626.00,148.35 C626.67,148.10 627.33,147.84 628.00,147.59 C628.67,147.33 629.33,147.07 630.00,146.81 C630.67,146.55 631.33,146.28 632.00,146.01 C632.67,145.75 633.33,145.48 634.00,145.21 C634.67,144.93 635.33,144.66 636.00,144.38 C636.67,144.11 637.33,143.83 638.00,143.55 C638.67,143.27 639.33,142.99 640.00,142.70 C640.67,142.42 641.33,142.13 642.00,141.85 C642.67,141.56 643.33,141.27 644.00,140.98 C644.67,140.69 645.33,140.40 646.00,140.11 C646.67,139.82 647.33,139.52 648.00,139.23 C648.67,138.93 649.33,138.64 650.00,138.34 C650.67,138.05 651.33,137.75 652.00,137.45 C652.67,137.15 653.33,136.85 654.00,136.56 C654.67,136.26 655.33,135.96 656.00,135.66 C656.67,135.36 657.33,135.06 658.00,134.76 C658.67,134.46 659.33,134.16 660.00,133.86 C660.67,133.56 661.33,133.26 662.00,132.96 C662.67,132.66 663.33,132.36 664.00,132.06 C664.67,131.76 665.33,131.46 666.00,131.17 C666.67,130.87 667.33,130.57 668.00,130.27 C668.67,129.98 669.33,129.68 670.00,129.39 C670.67,129.09 671.33,128.80 672.00,128.51 C672.67,128.22 673.33,127.92 674.00,127.63 C674.67,127.34 675.33,127.06 676.00,126.77 C676.67,126.48 677.38,126.17 678.00,125.91 C678.62,125.65 679.42,125.31 679.70,125.19" fill="none" stroke="#00ffff" stroke-width="2.35" stroke-linejoin="round" clip-path="url(#cr)"/>
<line x1="39.90" y1="5.00" x2="39.90" y2="207.40" stroke="#898989" stroke-width="1.00"/>
<line x1="325.65" y1="5.00" x2="325.65" y2="207.40" stroke="#666666" stroke-width="1.40"/>
<line x1="39.40" y1="5.76" x2="326.30" y2="5.76" stroke="#7f7f7f" stroke-width="1.10"/>
<line x1="39.40" y1="206.80" x2="326.30" y2="206.80" stroke="#8a8a8a" stroke-width="1.30"/>
<text x="39.90" y="225.20" text-anchor="middle">20</text>
<line x1="97.04" y1="206.76" x2="97.04" y2="202.96" stroke="#9a9a9a" stroke-width="1.3"/>
<text x="97.04" y="225.20" text-anchor="middle">76</text>
<line x1="154.18" y1="206.76" x2="154.18" y2="202.96" stroke="#9a9a9a" stroke-width="1.3"/>
<text x="154.18" y="225.20" text-anchor="middle">132</text>
<line x1="211.32" y1="206.76" x2="211.32" y2="202.96" stroke="#9a9a9a" stroke-width="1.3"/>
<text x="211.32" y="225.20" text-anchor="middle">188</text>
<line x1="268.46" y1="206.76" x2="268.46" y2="202.96" stroke="#9a9a9a" stroke-width="1.3"/>
<text x="268.46" y="225.20" text-anchor="middle">244</text>
<text x="325.60" y="225.20" text-anchor="middle">300</text>
<text x="35.15" y="212.16" text-anchor="end">0</text>
<line x1="39.90" y1="139.76" x2="43.10" y2="139.76" stroke="#9a9a9a" stroke-width="1.3"/>
<text x="35.15" y="145.16" text-anchor="end">0.2</text>
<line x1="39.90" y1="72.76" x2="43.10" y2="72.76" stroke="#9a9a9a" stroke-width="1.3"/>
<text x="35.15" y="78.16" text-anchor="end">0.4</text>
<text x="35.15" y="11.16" text-anchor="end">0.6</text>
<text x="182.75" y="241.90" text-anchor="middle">Frequency(Hz)</text>
<text transform="translate(12.30,106.76) rotate(-90)" text-anchor="middle">Eloss(J)</text>
<text x="70.90" y="24.50" style="font-size:15.3px">(a)</text>
<line x1="388.00" y1="5.00" x2="388.00" y2="207.60" stroke="#8f8f8f" stroke-width="1.20"/>
<line x1="673.70" y1="5.00" x2="673.70" y2="207.60" stroke="#7f7f7f" stroke-width="1.20"/>
<line x1="387.40" y1="5.76" x2="674.30" y2="5.76" stroke="#7f7f7f" stroke-width="1.10"/>
<line x1="387.40" y1="207.00" x2="674.30" y2="207.00" stroke="#8f8f8f" stroke-width="1.40"/>
<text x="388.00" y="225.20" text-anchor="middle">20</text>
<line x1="445.14" y1="207.00" x2="445.14" y2="203.20" stroke="#9a9a9a" stroke-width="1.3"/>
<text x="445.14" y="225.20" text-anchor="middle">76</text>
<line x1="502.28" y1="207.00" x2="502.28" y2="203.20" stroke="#9a9a9a" stroke-width="1.3"/>
<text x="502.28" y="225.20" text-anchor="middle">132</text>
<line x1="559.42" y1="207.00" x2="559.42" y2="203.20" stroke="#9a9a9a" stroke-width="1.3"/>
<text x="559.42" y="225.20" text-anchor="middle">188</text>
<line x1="616.56" y1="207.00" x2="616.56" y2="203.20" stroke="#9a9a9a" stroke-width="1.3"/>
<text x="616.56" y="225.20" text-anchor="middle">244</text>
<text x="673.70" y="225.20" text-anchor="middle">300</text>
<text x="383.25" y="212.40" text-anchor="end">0.2</text>
<line x1="388.00" y1="166.75" x2="391.20" y2="166.75" stroke="#9a9a9a" stroke-width="1.3"/>
<text x="383.25" y="172.15" text-anchor="end">0.3</text>
<line x1="388.00" y1="126.50" x2="391.20" y2="126.50" stroke="#9a9a9a" stroke-width="1.3"/>
<text x="383.25" y="131.90" text-anchor="end">0.4</text>
<line x1="388.00" y1="86.26" x2="391.20" y2="86.26" stroke="#9a9a9a" stroke-width="1.3"/>
<text x="383.25" y="91.66" text-anchor="end">0.5</text>
<line x1="388.00" y1="46.01" x2="391.20" y2="46.01" stroke="#9a9a9a" stroke-width="1.3"/>
<text x="383.25" y="51.41" text-anchor="end">0.6</text>
<text x="383.25" y="11.16" text-anchor="end">0.7</text>
<text x="530.85" y="241.90" text-anchor="middle">Frequency(Hz)</text>
<text transform="translate(360.40,106.38) rotate(-90)" text-anchor="middle">Loss factor</text>
<text x="632.20" y="24.50" style="font-size:15.3px">(b)</text>
<rect x="260.50" y="13.5" width="57.00" height="51.5" fill="#fff" stroke="#9c9c9c" stroke-width="1.2"/>
<line x1="263.10" y1="23.00" x2="280.70" y2="23.00" stroke="#7e8068" stroke-width="2.25"/>
<text x="282.50" y="28.30">Steel</text>
<line x1="263.10" y1="39.40" x2="280.70" y2="39.40" stroke="#ff4400" stroke-width="2.25"/>
<text x="282.50" y="44.70">Glass</text>
<line x1="263.10" y1="55.80" x2="280.70" y2="55.80" stroke="#00ffff" stroke-width="2.25"/>
<text x="282.50" y="61.10">POM</text>
<rect x="396.00" y="13.5" width="56.50" height="51.5" fill="#fff" stroke="#9c9c9c" stroke-width="1.2"/>
<line x1="398.60" y1="23.00" x2="416.20" y2="23.00" stroke="#7e8068" stroke-width="2.25"/>
<text x="418.00" y="28.30">Steel</text>
<line x1="398.60" y1="39.40" x2="416.20" y2="39.40" stroke="#ff0000" stroke-width="2.25"/>
<text x="418.00" y="44.70">Glass</text>
<line x1="398.60" y1="55.80" x2="416.20" y2="55.80" stroke="#00ffff" stroke-width="2.25"/>
<text x="418.00" y="61.10">POM</text>
</svg>
</body></html>
